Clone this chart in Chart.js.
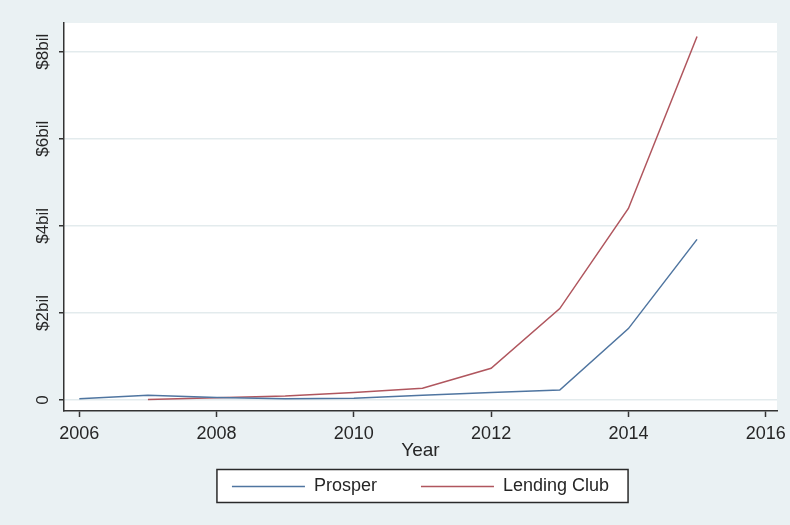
<!DOCTYPE html>
<html><head><meta charset="utf-8">
<script src="https://cdn.jsdelivr.net/npm/chart.js@4/dist/chart.umd.min.js"></script>
<style>html,body{margin:0;padding:0;background:#eaf1f3;} canvas{display:block;}</style>
</head><body>
<canvas id="c" width="790" height="525"></canvas>
<script>
const years = [2006, 2007, 2008, 2009, 2010, 2011, 2012, 2013, 2014, 2015];
const prosper = [0.03, 0.11, 0.06, 0.03, 0.04, 0.11, 0.17, 0.23, 1.64, 3.69];
const lendingClub = [null, 0.01, 0.05, 0.09, 0.17, 0.27, 0.73, 2.10, 4.40, 8.35];
const seriesNames = ['Prosper', 'Lending Club'];
const xTickValues = [2006, 2008, 2010, 2012, 2014, 2016];
const yTickValues = [0, 2, 4, 6, 8];
const yTickLabels = ['0', '$2bil', '$4bil', '$6bil', '$8bil'];
const xTitle = 'Year';

Chart.defaults.font.family = "'Liberation Sans', Arial, sans-serif";
const TXT = '#262626';

const bgPlugin = {
  id: 'bg',
  afterLayout(chart) {
    const lg = chart.legend;
    if (lg) {
      const shift = 8;
      lg.top -= shift;
      lg.bottom -= shift;
    }
  },
  beforeDraw(chart) {
    const {ctx, chartArea: a} = chart;
    ctx.save();
    ctx.fillStyle = '#eaf1f3';
    ctx.fillRect(0, 0, chart.width, chart.height);
    ctx.fillStyle = '#ffffff';
    ctx.fillRect(a.left, a.top, a.right - a.left, a.bottom - a.top);
    const hb = chart.legend && chart.legend.legendHitBoxes;
    if (hb && hb.length) {
      const l = Math.min(...hb.map(h => h.left)) - 15;
      const r = Math.max(...hb.map(h => h.left + h.width)) + 19;
      const t = Math.min(...hb.map(h => h.top)) - 8;
      const b = Math.max(...hb.map(h => h.top + h.height)) + 7;
      ctx.fillStyle = '#ffffff';
      ctx.fillRect(l, t, r - l, b - t);
      ctx.strokeStyle = '#2a2a2a';
      ctx.lineWidth = 1.5;
      ctx.strokeRect(l, t, r - l, b - t);
    }
    ctx.restore();
  }
};

new Chart(document.getElementById('c'), {
  type: 'line',
  data: {
    datasets: [
      {
        label: seriesNames[0],
        data: years.map((yr, i) => ({x: yr, y: prosper[i]})),
        borderColor: '#4f75a0',
        backgroundColor: '#4f75a0',
        borderWidth: 1.5,
        pointRadius: 0,
        tension: 0
      },
      {
        label: seriesNames[1],
        data: years.map((yr, i) => ({x: yr, y: lendingClub[i]})),
        borderColor: '#b0565e',
        backgroundColor: '#b0565e',
        borderWidth: 1.5,
        pointRadius: 0,
        tension: 0
      }
    ]
  },
  options: {
    responsive: false,
    animation: false,
    layout: {padding: {left: 0, right: 13, top: 23, bottom: 11.5}},
    plugins: {
      tooltip: {enabled: false},
      legend: {
        position: 'bottom',
        fullSize: false,
        labels: {
          usePointStyle: true,
          pointStyle: 'line',
          pointStyleWidth: 73,
          padding: 44,
          color: TXT,
          font: {size: 18}
        }
      }
    },
    scales: {
      x: {
        type: 'linear',
        min: 2005.777,
        max: 2016.165,
        afterBuildTicks: s => { s.ticks = xTickValues.map(v => ({value: v})); },
        afterFit: s => { s.height = 30.5; s.paddingLeft = 0; s.paddingRight = 0; },
        ticks: {
          autoSkip: false, maxRotation: 0, minRotation: 0,
          padding: 6.5, color: TXT, font: {size: 18},
          callback: v => String(v)
        },
        grid: {drawOnChartArea: false, tickLength: 6, tickColor: '#333', tickWidth: 1.5},
        border: {color: '#333', width: 1.5},
        title: {display: true, text: xTitle, color: TXT, font: {size: 19}, padding: {top: 0, bottom: -21}}
      },
      y: {
        min: -0.2526,
        max: 8.659,
        afterBuildTicks: s => { s.ticks = yTickValues.map(v => ({value: v})); },
        afterFit: s => { s.width = 64; s.paddingTop = 0; s.paddingBottom = 0; },
        ticks: {
          minRotation: 90, maxRotation: 90, crossAlign: 'center',
          padding: -2, color: TXT, font: {size: 17},
          callback: v => yTickLabels[yTickValues.indexOf(v)]
        },
        grid: {color: '#e3ebed', lineWidth: 1.5, tickLength: 5, tickColor: '#333', tickWidth: 1.5},
        border: {color: '#333', width: 1.5}
      }
    }
  },
  plugins: [bgPlugin]
});
</script>
</body></html>
